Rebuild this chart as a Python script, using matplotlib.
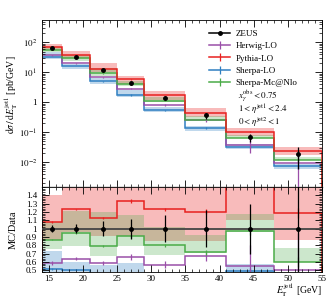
import numpy as np
import matplotlib
matplotlib.use("Agg")
import matplotlib.pyplot as plt
from matplotlib.lines import Line2D
from matplotlib.ticker import MultipleLocator, LogLocator, NullFormatter, FixedLocator

plt.rcParams['font.family'] = ['Liberation Serif', 'DejaVu Serif']
plt.rcParams['mathtext.fontset'] = 'stix'

# ---- data ----
edges = [14, 17, 21, 25, 29, 35, 41, 48, 55]
centers = [15.5, 19, 23, 27, 32, 38, 44.5, 51.5]
zeus = [64, 31.6, 11.7, 4.4, 1.44, 0.37, 0.068, 0.0195]
zeus_relerr = [0.04, 0.05, 0.09, 0.12, 0.16, 0.22, 0.30, 0.70]

# MC / data ratios
herwig_r = [0.59, 0.64, 0.59, 0.66, 0.57, 0.67, 0.55, 0.50]
herwig_staterr = [0.02, 0.02, 0.02, 0.04, 0.04, 0.06, 0.25, 0.45]
pythia_r = [1.08, 1.23, 1.13, 1.33, 1.23, 1.20, 1.56, 1.19]
pythia_lo = [0.87, 0.96, 0.91, 0.91, 0.85, 0.85, 1.10, 0.87]
pythia_hi = [1.40, 1.70, 1.70, 1.75, 1.70, 1.70, 2.00, 1.70]
sherpa_r = [0.52, 0.51, 0.43, 0.40, 0.38, 0.37, 0.49, 0.37]
sherpa_lo = [0.44, 0.40, 0.36, 0.34, 0.32, 0.30, 0.40, 0.30]
sherpa_hi = [0.73, 0.60, 0.57, 0.59, 0.47, 0.45, 0.58, 0.45]
mcnlo_r = [0.87, 0.95, 0.79, 0.91, 0.80, 0.72, 0.97, 0.60]
mcnlo_lo = [0.76, 0.79, 0.67, 0.79, 0.69, 0.71, 0.96, 0.60]
mcnlo_hi = [1.08, 1.21, 1.20, 1.16, 1.02, 0.93, 1.18, 0.77]
mc_staterr = [0.01, 0.01, 0.015, 0.02, 0.02, 0.03, 0.04, 0.06]

labels = ['ZEUS', 'Herwig-LO', 'Pythia-LO', 'Sherpa-LO', 'Sherpa-Mc@Nlo']

c_her = '#9a4fa8'
c_pyt = '#e8201f'
c_she = '#2f7fc1'
c_nlo = '#4aab48'

zeus_a = np.array(zeus)
edges_a = np.array(edges)
cent_a = np.array(centers)

fig = plt.figure(figsize=(3.32, 3.0), dpi=100)
axm = fig.add_axes([0.1265, 0.377, 0.8435, 0.556])
axr = fig.add_axes([0.1265, 0.093, 0.8435, 0.284], sharex=axm)

def draw(ax, scale):
    s = scale
    ax.stairs(np.array(pythia_hi) * s, edges_a, baseline=np.array(pythia_lo) * s,
              fill=True, color=c_pyt, alpha=0.30, lw=0)
    ax.stairs(np.array(mcnlo_hi) * s, edges_a, baseline=np.array(mcnlo_lo) * s,
              fill=True, color=c_nlo, alpha=0.28, lw=0)
    ax.stairs(np.array(sherpa_hi) * s, edges_a, baseline=np.array(sherpa_lo) * s,
              fill=True, color=c_she, alpha=0.30, lw=0)
    for r, c, err in [(sherpa_r, c_she, mc_staterr), (herwig_r, c_her, herwig_staterr),
                      (mcnlo_r, c_nlo, mc_staterr), (pythia_r, c_pyt, mc_staterr)]:
        v = np.array(r) * s
        ax.stairs(v, edges_a, color=c, lw=1.1)
        e = np.array(err) * s
        ax.errorbar(cent_a, v, yerr=e, fmt='none', ecolor=c, elinewidth=0.9)

draw(axm, zeus_a)
draw(axr, np.ones(8))

axm.errorbar(cent_a, zeus_a, yerr=zeus_a * np.array(zeus_relerr), fmt='o', ms=2.5,
             color='black', ecolor='black', elinewidth=0.9, zorder=10)
axr.axhline(1.0, color='#444444', lw=1.3, zorder=9)
axr.errorbar(cent_a, np.ones(8), yerr=np.array(zeus_relerr), fmt='o', ms=2.5,
             color='black', ecolor='black', elinewidth=0.9, zorder=10)

axm.set_yscale('log')
axm.set_ylim(1.5e-3, 560)
axm.set_xlim(14, 55)
axr.set_ylim(0.48, 1.5)

for ax in (axm, axr):
    ax.tick_params(which='both', direction='in', top=True, right=True, labelsize=6.5)
    ax.tick_params(which='major', length=5, width=0.6)
    ax.tick_params(which='minor', length=2.5, width=0.5)
    ax.xaxis.set_major_locator(MultipleLocator(5))
    ax.xaxis.set_minor_locator(MultipleLocator(1))
    for sp in ax.spines.values():
        sp.set_linewidth(0.6)
axr.tick_params(axis='x', pad=2)
axm.spines['bottom'].set_color('#555555')
axm.spines['bottom'].set_linewidth(1.0)
axm.tick_params(labelbottom=False)
axm.yaxis.set_minor_locator(LogLocator(base=10, subs=np.arange(2, 10), numticks=12))
axm.yaxis.set_minor_formatter(NullFormatter())
axm.set_yticks([1e-2, 1e-1, 1, 10, 100])
axm.set_yticklabels([r'$10^{-2}$', r'$10^{-1}$', '1', r'$10^{1}$', r'$10^{2}$'])
axr.yaxis.set_major_locator(FixedLocator([0.5, 0.6, 0.7, 0.8, 0.9, 1.0, 1.1, 1.2, 1.3, 1.4]))
axr.set_yticklabels(['0.5', '0.6', '0.7', '0.8', '0.9', '1', '1.1', '1.2', '1.3', '1.4'])
axr.yaxis.set_minor_locator(MultipleLocator(0.02))

axm.set_ylabel(r'$\mathrm{d}\sigma\,/\,\mathrm{d}E_{\mathrm{T}}^{\mathrm{jet1}}$ [pb/GeV]', fontsize=7)
axr.set_ylabel('MC/Data', fontsize=7.5)
axm.yaxis.set_label_coords(-0.08, 0.55)
axr.yaxis.set_label_coords(-0.085, 0.5)
fig.text(322 / 332, 1 / 300, r'$E_{\mathrm{T}}^{\mathrm{jet1}}$ [GeV]', fontsize=7,
         ha='right', va='bottom')

handles = [Line2D([], [], color='black', marker='o', ms=2.5, lw=1.1)]
for c in (c_her, c_pyt, c_she, c_nlo):
    handles.append(Line2D([], [], color=c, marker='|', ms=6, mew=0.9, lw=1.1))
leg = axm.legend(handles, labels, loc='upper left', bbox_to_anchor=(0.585, 0.965),
                 frameon=False, fontsize=6.5, handlelength=2.3, handletextpad=0.6,
                 labelspacing=0.45, borderaxespad=0)

axm.text(0.70, 0.545, r'$x_{\gamma}^{\mathrm{obs}} < 0.75$', transform=axm.transAxes,
         fontsize=6.5, va='center')
axm.text(0.70, 0.463, r'$1 < \eta^{\mathrm{jet1}} < 2.4$', transform=axm.transAxes,
         fontsize=6.5, va='center')
axm.text(0.70, 0.385, r'$0 < \eta^{\mathrm{jet2}} < 1$', transform=axm.transAxes,
         fontsize=6.5, va='center')

fig.savefig('out.png', dpi=100)
